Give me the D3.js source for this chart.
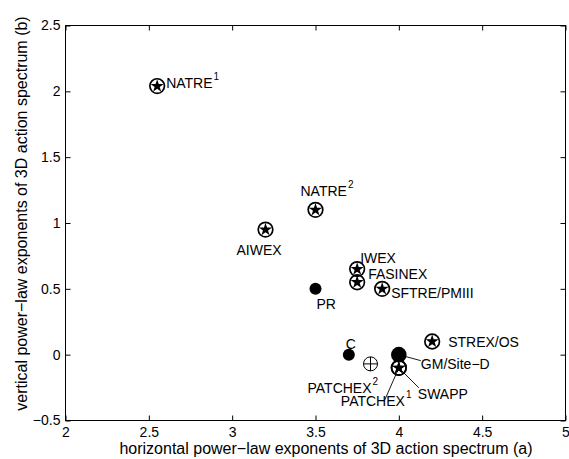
<!DOCTYPE html>
<html>
<head>
<meta charset="utf-8">
<script src="https://cdn.jsdelivr.net/npm/d3@7"></script>
<style>
body { margin: 0; background: #fff; }
svg text { font-family: "Liberation Sans", Arial, Helvetica, sans-serif; fill: #000; }
</style>
</head>
<body>
<svg id="chart" width="569" height="459"></svg>
<script>
var experiments = ["NATRE1", "NATRE2", "AIWEX", "IWEX", "FASINEX", "SFTRE/PMIII", "PR", "C",
    "STREX/OS", "GM/Site-D", "PATCHEX2", "PATCHEX1", "SWAPP"];
var aExponent = [2.55, 3.5, 3.2, 3.75, 3.75, 3.9, 3.5, 3.7, 4.2, 4.0, 3.83, 4.0, 4.0];
var bExponent = [2.04, 1.1, 0.95, 0.65, 0.55, 0.5, 0.5, 0.0, 0.1, 0.0, -0.07, -0.1, -0.1];
var markerKind = ["star", "star", "star", "star", "star", "star", "dot", "dot",
    "star", "bigdot", "plus", "star", "star"];

var xTickValues = [2, 2.5, 3, 3.5, 4, 4.5, 5];
var xTickLabels = ["2", "2.5", "3", "3.5", "4", "4.5", "5"];
var yTickValues = [-0.5, 0, 0.5, 1, 1.5, 2, 2.5];
var yTickLabels = ["\u22120.5", "0", "0.5", "1", "1.5", "2", "2.5"];

// where each label sits, in pixels from its marker (leader = end of leader line)
var labelPlace = {
    "NATRE1": {text: "NATRE", sup: "1", dx: 9, dy: 2},
    "NATRE2": {text: "NATRE", sup: "2", dx: -15, dy: -14},
    "AIWEX": {text: "AIWEX", dx: -29, dy: 25},
    "IWEX": {text: "IWEX", dx: 3, dy: -6},
    "FASINEX": {text: "FASINEX", dx: 11, dy: -3},
    "SFTRE/PMIII": {text: "SFTRE/PMIII", dx: 9, dy: 9},
    "PR": {text: "PR", dx: 1, dy: 20},
    "C": {text: "C", dx: -3, dy: -6},
    "STREX/OS": {text: "STREX/OS", dx: 16, dy: 5},
    "GM/Site-D": {text: "GM/Site\u2212D", dx: 22, dy: 14, leader: [22, 6]},
    "PATCHEX2": {text: "PATCHEX", sup: "2", dx: -63, dy: 29},
    "PATCHEX1": {text: "PATCHEX", sup: "1", dx: -58, dy: 38, leader: [-14, 32]},
    "SWAPP": {text: "SWAPP", dx: 19, dy: 31, leader: [20, 20]}
};

var svg = d3.select("#chart");
svg.append("rect").attr("width", 569).attr("height", 459).attr("fill", "#fff");

var margin = {top: 25, right: 4, bottom: 39, left: 65};
var width = +svg.attr("width") - margin.left - margin.right;
var height = +svg.attr("height") - margin.top - margin.bottom;

var x = d3.scaleLinear().domain([2, 5]).range([0, width]);
var y = d3.scaleLinear().domain([-0.5, 2.5]).range([height, 0]);

var g = svg.append("g")
    .attr("transform", "translate(" + (margin.left + 0.5) + "," + (margin.top + 0.5) + ")");

var fontSize = 14;

function styleAxis(sel) {
    sel.select(".domain").remove();
    sel.selectAll(".tick line").attr("stroke", "#000");
    sel.selectAll(".tick text").style("font-size", fontSize + "px");
}

g.append("g")
    .attr("transform", "translate(0," + height + ")")
    .call(d3.axisBottom(x).tickValues(xTickValues)
        .tickFormat(function(d, i) { return xTickLabels[i]; })
        .tickSizeInner(-5).tickSizeOuter(0).tickPadding(7))
    .call(styleAxis);

g.append("g")
    .call(d3.axisLeft(y).tickValues(yTickValues)
        .tickFormat(function(d, i) { return yTickLabels[i]; })
        .tickSizeInner(-5).tickSizeOuter(0).tickPadding(5))
    .call(styleAxis);

g.append("g")
    .call(d3.axisTop(x).tickValues(xTickValues).tickFormat("")
        .tickSizeInner(-5).tickSizeOuter(0))
    .call(styleAxis);

g.append("g")
    .attr("transform", "translate(" + width + ",0)")
    .call(d3.axisRight(y).tickValues(yTickValues).tickFormat("")
        .tickSizeInner(-5).tickSizeOuter(0))
    .call(styleAxis);

g.append("rect")
    .attr("width", width)
    .attr("height", height)
    .attr("fill", "none")
    .attr("stroke", "#000")
    .attr("stroke-width", 1);

// axis titles
svg.append("text")
    .attr("x", margin.left + width / 2 + 11)
    .attr("y", 454)
    .attr("text-anchor", "middle")
    .style("font-size", "16px")
    .text("horizontal power\u2212law exponents of 3D action spectrum (a)");

svg.append("text")
    .attr("transform", "rotate(-90)")
    .attr("x", -(margin.top + height / 2 - 9))
    .attr("y", 27)
    .attr("text-anchor", "middle")
    .style("font-size", "16px")
    .text("vertical power\u2212law exponents of 3D action spectrum (b)");

// leader lines first, markers on top
experiments.forEach(function(name, i) {
    var p = labelPlace[name];
    if (!p.leader) return;
    g.append("line")
        .attr("x1", x(aExponent[i]))
        .attr("y1", y(bExponent[i]))
        .attr("x2", x(aExponent[i]) + p.leader[0])
        .attr("y2", y(bExponent[i]) + p.leader[1])
        .attr("stroke", "#000")
        .attr("stroke-width", 0.9);
});

var star = d3.symbol().type(d3.symbolStar).size(54);

experiments.forEach(function(name, i) {
    var cx = x(aExponent[i]);
    var cy = y(bExponent[i]);
    var kind = markerKind[i];
    var m = g.append("g").attr("transform", "translate(" + cx + "," + cy + ")");

    if (kind === "star") {
        m.append("circle").attr("r", 7.3)
            .attr("fill", "none").attr("stroke", "#000").attr("stroke-width", 1.7);
        m.append("path").attr("d", star).attr("fill", "#000");
    } else if (kind === "dot") {
        m.append("circle").attr("r", 6).attr("fill", "#000");
    } else if (kind === "bigdot") {
        m.append("circle").attr("r", 7.8).attr("fill", "#000");
    } else if (kind === "plus") {
        m.append("circle").attr("r", 7)
            .attr("fill", "none").attr("stroke", "#000").attr("stroke-width", 1);
        m.append("line").attr("x1", -7).attr("x2", 7).attr("stroke", "#000");
        m.append("line").attr("y1", -7).attr("y2", 7).attr("stroke", "#000");
    }

    var p = labelPlace[name];
    var t = g.append("text")
        .attr("x", cx + p.dx)
        .attr("y", cy + p.dy)
        .style("font-size", fontSize + "px")
        .text(p.text);
    if (p.sup) {
        t.append("tspan")
            .attr("dx", 1)
            .attr("dy", -8)
            .style("font-size", "10px")
            .text(p.sup);
    }
});
</script>
</body>
</html>
